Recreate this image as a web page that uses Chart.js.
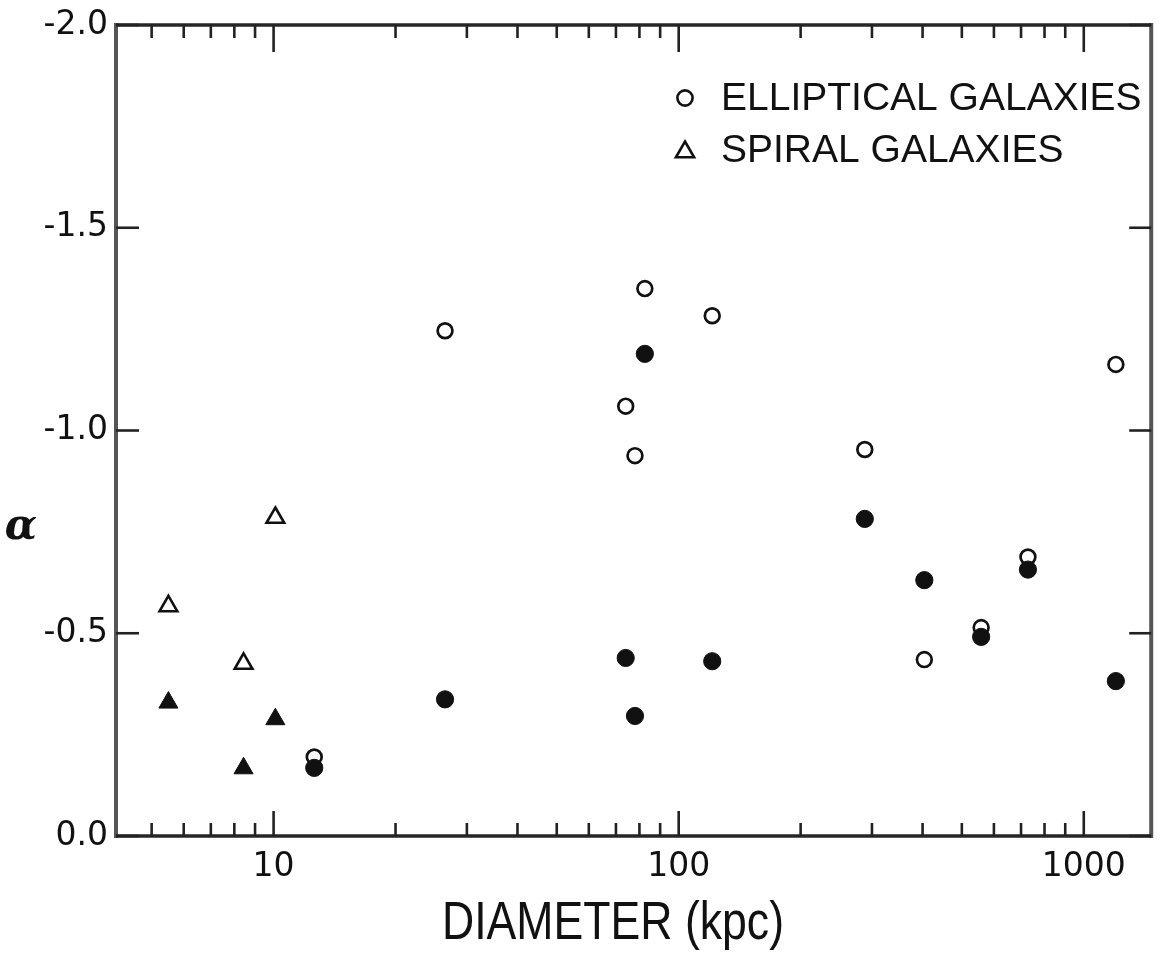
<!DOCTYPE html>
<html>
<head>
<meta charset="utf-8">
<script src="https://cdn.jsdelivr.net/npm/chart.js@4.4.1/dist/chart.umd.min.js"></script>
<style>
html,body{margin:0;padding:0;background:#ffffff;}
#wrap{width:1164px;height:954px;position:relative;}
</style>
</head>
<body>
<div id="wrap"><canvas id="c" width="1164" height="954"></canvas></div>
<script>
// ---- data ----
const ellipticalDiameter = [12.6, 26.5, 74, 78, 82.5, 121, 288, 404, 558, 728, 1200];
const ellipticalOpenAlpha = [-0.195, -1.246, -1.060, -0.938, -1.350, -1.283, -0.953, -0.435, -0.514, -0.688, -1.163];
const ellipticalFilledAlpha = [-0.168, -0.337, -0.439, -0.296, -1.189, -0.431, -0.782, -0.631, -0.491, -0.657, -0.382];
const spiralDiameter = [5.5, 8.43, 10.1];
const spiralOpenAlpha = [-0.567, -0.425, -0.785];
const spiralFilledAlpha = [-0.329, -0.167, -0.288];

// ---- axis ticks / labels ----
const xLabelTicks = [10, 100, 1000];
const xMinorTicks = [5, 6, 7, 8, 9, 20, 30, 40, 50, 60, 70, 80, 90, 200, 300, 400, 500, 600, 700, 800, 900];
const yTickValues = [-2.0, -1.5, -1.0, -0.5, 0.0];
const legendLabels = ['ELLIPTICAL GALAXIES', 'SPIRAL GALAXIES'];
const xTitle = 'DIAMETER (kpc)';
const yTitle = 'α';

const INK = '#111111';
const FONT = '"Liberation Sans", Arial, sans-serif';
const TICK_FONT = '"DejaVu Sans", "Liberation Sans", sans-serif';

function pairs(xs, ys) { return xs.map((x, i) => ({ x: x, y: ys[i] })); }

const decorations = {
  id: 'decorations',
  beforeDatasetsDraw(chart) {
    const { ctx, chartArea: a, scales } = chart;
    const x = scales.x, y = scales.y;
    const line = (x1, y1, x2, y2) => { ctx.beginPath(); ctx.moveTo(x1, y1); ctx.lineTo(x2, y2); ctx.stroke(); };
    ctx.save();
    ctx.lineCap = 'butt';
    // frame
    ctx.strokeStyle = '#555555';
    ctx.lineWidth = 4;
    line(a.left, a.top - 2, a.left, a.bottom + 2);
    line(a.right, a.top - 2, a.right, a.bottom + 2);
    ctx.strokeStyle = '#262626';
    ctx.lineWidth = 3.5;
    line(a.left, a.top, a.right, a.top);
    line(a.left, a.bottom, a.right, a.bottom);
    // inward ticks
    ctx.strokeStyle = '#222222';
    ctx.lineWidth = 2.6;
    xMinorTicks.forEach(v => {
      const px = x.getPixelForValue(v);
      line(px, a.bottom, px, a.bottom - 13);
      line(px, a.top, px, a.top + 13);
    });
    xLabelTicks.forEach(v => {
      const px = x.getPixelForValue(v);
      line(px, a.bottom, px, a.bottom - 25);
      line(px, a.top, px, a.top + 27);
    });
    yTickValues.forEach(v => {
      const py = y.getPixelForValue(v);
      line(a.left, py, a.left + 23, py);
      line(a.right, py, a.right - 22, py);
    });
    ctx.restore();
  },
  afterDraw(chart) {
    const ctx = chart.ctx;
    ctx.save();
    ctx.fillStyle = INK;
    // y title (upright alpha)
    ctx.font = 'italic bold 42px "DejaVu Serif", serif';
    ctx.textAlign = 'center';
    ctx.textBaseline = 'middle';
    ctx.fillText(yTitle, 21, 528);
    // x title (condensed lettering)
    ctx.font = '53px ' + FONT;
    ctx.textAlign = 'left';
    ctx.textBaseline = 'alphabetic';
    const w = ctx.measureText(xTitle).width;
    const sx = 342 / w;
    ctx.save();
    ctx.translate(442, 939);
    ctx.scale(sx, 1);
    ctx.fillText(xTitle, 0, 0);
    ctx.restore();
    // legend
    const rows = [
      { text: legendLabels[0], style: 'circle', r: 7.6, y: 98 },
      { text: legendLabels[1], style: 'triangle', r: 10.5, y: 150 }
    ];
    ctx.font = '39px ' + FONT;
    ctx.textAlign = 'left';
    ctx.textBaseline = 'middle';
    rows.forEach(row => {
      ctx.fillStyle = INK;
      ctx.fillText(row.text, 721, row.y + 1);
      ctx.fillStyle = '#ffffff';
      ctx.strokeStyle = INK;
      ctx.lineWidth = 2.6;
      Chart.helpers.drawPoint(ctx, { pointStyle: row.style, radius: row.r, borderWidth: 2.6, rotation: 0 }, 685, row.y + (row.style === 'triangle' ? 2 : 0));
    });
    ctx.restore();
  }
};

const chart = new Chart(document.getElementById('c'), {
  type: 'scatter',
  data: {
    datasets: [
      { label: 'Elliptical (filled)', data: pairs(ellipticalDiameter, ellipticalFilledAlpha),
        pointStyle: 'circle', pointRadius: 8.6, pointBorderWidth: 1, pointBackgroundColor: INK, pointBorderColor: INK },
      { label: 'Spiral (filled)', data: pairs(spiralDiameter, spiralFilledAlpha),
        pointStyle: 'triangle', pointRadius: 11, pointBorderWidth: 1, pointBackgroundColor: INK, pointBorderColor: INK },
      { label: legendLabels[0], data: pairs(ellipticalDiameter, ellipticalOpenAlpha),
        pointStyle: 'circle', pointRadius: 7.4, pointBorderWidth: 2.7, pointBackgroundColor: '#ffffff', pointBorderColor: INK },
      { label: legendLabels[1], data: pairs(spiralDiameter, spiralOpenAlpha),
        pointStyle: 'triangle', pointRadius: 10.2, pointBorderWidth: 2.6, pointBackgroundColor: '#ffffff', pointBorderColor: INK }
    ]
  },
  options: {
    responsive: false,
    animation: false,
    devicePixelRatio: 1,
    layout: { padding: { left: 0, right: 4, top: 25, bottom: 0 } },
    plugins: { legend: { display: false }, tooltip: { enabled: false } },
    scales: {
      x: {
        type: 'logarithmic',
        min: 4.083,
        max: 1467,
        border: { display: false },
        grid: { display: false, drawTicks: false },
        afterBuildTicks: s => { s.ticks = xLabelTicks.map(v => ({ value: v, major: true })); },
        afterFit: s => { s.height = 118; s.paddingLeft = 0; s.paddingRight = 0; },
        ticks: {
          autoSkip: false, maxRotation: 0, minRotation: 0, padding: 12, color: INK,
          font: { family: TICK_FONT, size: 33 },
          callback: v => String(v)
        },
        title: { display: false }
      },
      y: {
        type: 'linear',
        min: -2.0,
        max: 0.0,
        reverse: true,
        border: { display: false },
        grid: { display: false, drawTicks: false },
        afterBuildTicks: s => { s.ticks = yTickValues.map(v => ({ value: v })); },
        afterFit: s => { s.width = 116; s.paddingTop = 0; s.paddingBottom = 0; },
        ticks: {
          padding: 8, color: INK,
          font: { family: TICK_FONT, size: 33 },
          callback: v => (Math.abs(v) < 1e-9 ? '0.0' : Number(v).toFixed(1))
        }
      }
    }
  },
  plugins: [decorations]
});
</script>
</body>
</html>
